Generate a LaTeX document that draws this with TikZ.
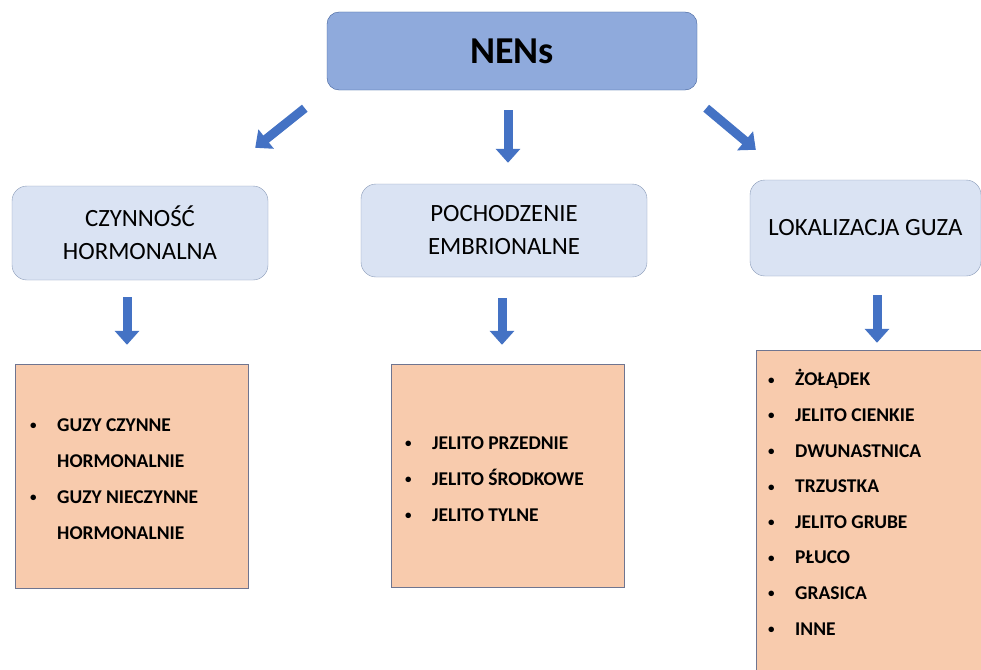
\documentclass[tikz,border=0pt]{standalone}
\usepackage{fontspec}
\setmainfont{Carlito}
\usetikzlibrary{arrows.meta,positioning}
\definecolor{nensblue}{HTML}{8FAADC}
\definecolor{nensline}{HTML}{3F5F9A}
\definecolor{catblue}{HTML}{DAE3F3}
\definecolor{catline}{HTML}{8A9BB8}
\definecolor{listorange}{HTML}{F8CBAD}
\definecolor{listline}{HTML}{6F7590}
\definecolor{arrowblue}{HTML}{4472C4}
\newcommand{\itm}[1]{\makebox[27pt][l]{\raisebox{1.5pt}{\fontsize{13}{13}\selectfont\textbullet}}#1}
\newcommand{\cont}[1]{\makebox[27pt][l]{}#1}

\begin{document}
\begin{tikzpicture}[x=1pt,y=-1pt,
    catbox/.style={draw=catline,fill=catblue,rounded corners=15pt,align=center,
      font=\fontsize{24.8}{33}\selectfont,inner sep=0pt},
    listbox/.style={draw=listline,fill=listorange,inner sep=0pt},
    listtext/.style={anchor=base west,inner sep=0pt,align=left,
      font=\fontsize{19.5}{36}\selectfont\bfseries},
    blockarrow/.style={draw=arrowblue,line width=9pt,
      -{Triangle[length=14pt,width=24pt,fill=arrowblue]}}]

  \clip (0,0) rectangle (981,669);
  \fill[white] (0,0) rectangle (981,669);

  \node[draw=nensline,fill=nensblue,rounded corners=12pt,minimum width=370pt,minimum height=78pt,
    font=\fontsize{38}{40}\selectfont\bfseries] (nens) at (512,51) {NENs};

  \node[catbox,minimum width=256pt,minimum height=94pt] (czyn) at (140,233) {CZYNNOŚĆ\\HORMONALNA};
  \node[catbox,minimum width=286pt,minimum height=93pt] (poch) at (504,230.5) {POCHODZENIE\\EMBRIONALNE};
  \node[catbox,minimum width=231pt,minimum height=96pt] (lok) at (865.5,228) {LOKALIZACJA GUZA};

  \node[listbox,minimum width=233pt,minimum height=224pt] (hormbox) at (131.5,476) {};
  \node[listbox,minimum width=233pt,minimum height=223pt] (embbox) at (507.5,475.5) {};
  \node[listbox,minimum width=244pt,minimum height=340pt] (lokbox) at (878,520) {};

  % base = baseline of the last line
  \node[listtext] (hormlist) at (30,539) {\itm{GUZY CZYNNE}\\\cont{HORMONALNIE}\\
    \itm{GUZY NIECZYNNE}\\\cont{HORMONALNIE}};
  \node[listtext] (emblist) at (405,521) {\itm{JELITO PRZEDNIE}\\\itm{JELITO ŚRODKOWE}\\
    \itm{JELITO TYLNE}};
  \node[listtext,font=\fontsize{19.5}{35.6}\selectfont\bfseries] (loklist) at (768,635)
    {\itm{ŻOŁĄDEK}\\\itm{JELITO CIENKIE}\\\itm{DWUNASTNICA}\\\itm{TRZUSTKA}\\
    \itm{JELITO GRUBE}\\\itm{PŁUCO}\\\itm{GRASICA}\\\itm{INNE}};

  % arrows
  \draw[blockarrow] ([shift={(-22,18)}]nens.south west) -- ([shift={(-13,-38)}]czyn.north east);
  \draw[blockarrow] ([shift={(-4,20)}]nens.south) -- ([shift={(4,-21)}]poch.north);
  \draw[blockarrow] ([shift={(9,18)}]nens.south east) -- ([shift={(6,-30)}]lok.north west);

  \draw[blockarrow] ([shift={(-13,17)}]czyn.south) -- ([shift={(-4.5,-19)}]hormbox.north);
  \draw[blockarrow] ([shift={(-2,21)}]poch.south) -- ([shift={(-5.5,-19)}]embbox.north);
  \draw[blockarrow] ([shift={(11.5,19)}]lok.south) -- ([shift={(-1,-7)}]lokbox.north);
\end{tikzpicture}
\end{document}
